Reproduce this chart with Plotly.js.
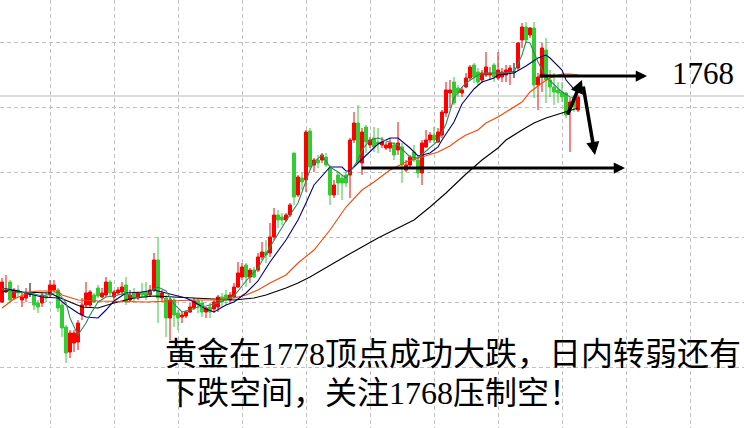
<!DOCTYPE html>
<html><head><meta charset="utf-8">
<script src="https://cdn.plot.ly/plotly-3.0.1.min.js"></script>
<style>html,body{margin:0;padding:0;background:#fff;}#chart{width:744px;height:428px;}</style>
</head><body><div id="chart"></div>
<script>
// ---- candle data (index = bar number, prices) ----
const opens = [
1722.6,1724.6,1726.6,1723.4,1725.0,1723.0,1723.4,1724.2,1724.0,1722.4,
1722.4,1723.8,1724.0,1725.0,1725.0,1722.0,1717.6,1712.6,1714.4,1714.6,
1720.0,1722.0,1722.0,1724.0,1725.4,1723.6,1724.0,1726.6,1723.6,1724.4,
1724.6,1726.0,1723.0,1724.4,1723.4,1724.6,1724.6,1724.0,1725.0,1731.0,
1723.4,1723.4,1719.4,1723.0,1720.4,1719.6,1719.8,1720.6,1721.4,1722.8,
1722.4,1720.6,1721.6,1721.2,1721.6,1723.6,1724.0,1723.0,1723.6,1725.6,
1727.6,1730.0,1727.6,1729.0,1729.0,1731.6,1732.6,1732.4,1735.6,1740.0,
1739.6,1739.0,1740.0,1752.4,1744.0,1747.4,1747.0,1756.8,1750.0,1751.0,
1751.0,1751.6,1749.4,1744.0,1748.0,1747.4,1748.0,1748.0,1755.0,1758.4,
1750.4,1757.6,1754.0,1755.4,1754.6,1754.0,1753.4,1753.4,1754.0,1753.0,
1753.6,1749.0,1750.0,1752.6,1751.0,1748.4,1753.6,1755.0,1756.0,1754.6,
1756.0,1760.4,1764.4,1766.6,1765.4,1764.4,1765.6,1767.4,1770.0,1768.6,
1767.0,1768.0,1768.0,1770.0,1767.4,1767.6,1768.0,1768.6,1768.6,1769.4,
1775.0,1777.6,1776.0,1777.4,1766.0,1767.6,1773.0,1767.0,1765.6,1765.0,
1764.6,1764.4,1761.4,1763.4,1761.0];
const highs = [
1727.4,1728.0,1727.0,1725.4,1726.0,1724.6,1725.4,1726.4,1724.4,1723.0,
1724.4,1724.6,1727.0,1727.0,1725.4,1722.6,1718.0,1717.0,1717.0,1719.0,
1723.4,1726.6,1725.0,1724.4,1726.0,1725.4,1727.6,1727.0,1725.0,1725.6,
1726.6,1727.6,1725.0,1725.4,1724.6,1726.4,1726.6,1726.0,1732.4,1735.6,
1725.0,1724.0,1723.4,1723.4,1721.0,1720.6,1721.0,1722.4,1723.4,1723.4,
1723.0,1721.6,1722.4,1723.0,1724.0,1724.4,1725.0,1724.6,1726.4,1730.6,
1730.4,1730.4,1729.4,1729.6,1732.4,1734.6,1735.0,1738.4,1741.4,1741.0,
1740.4,1740.4,1742.4,1752.4,1748.0,1748.4,1757.0,1757.4,1751.4,1752.0,
1752.4,1752.4,1750.0,1747.0,1748.6,1748.0,1748.6,1755.4,1760.6,1762.0,
1757.4,1758.0,1755.6,1757.6,1757.4,1755.6,1754.6,1755.4,1754.6,1758.6,
1754.4,1751.0,1752.0,1754.0,1752.0,1755.0,1757.0,1756.6,1757.6,1757.4,
1761.0,1766.6,1767.0,1767.6,1766.0,1765.6,1768.4,1770.0,1770.4,1769.4,
1769.0,1772.6,1769.6,1770.4,1772.6,1769.4,1770.0,1770.0,1770.4,1774.6,
1778.4,1778.6,1777.6,1778.6,1768.4,1774.4,1775.4,1769.0,1768.4,1766.6,
1766.6,1764.6,1763.4,1764.0,1764.0];
const lows = [
1722.4,1724.4,1722.6,1723.0,1723.6,1721.6,1722.6,1723.6,1721.0,1720.4,
1721.6,1722.6,1723.6,1724.6,1720.6,1715.6,1710.4,1711.4,1712.6,1713.0,
1719.0,1721.6,1721.4,1722.4,1723.4,1723.4,1723.6,1723.6,1723.0,1724.0,
1724.0,1722.0,1722.6,1722.6,1723.0,1723.6,1723.0,1723.6,1724.6,1718.4,
1722.6,1715.6,1715.0,1717.6,1717.0,1718.4,1719.4,1720.4,1721.0,1720.4,
1719.6,1719.4,1719.4,1720.4,1720.6,1721.6,1722.0,1722.4,1723.4,1725.4,
1727.0,1725.6,1726.4,1727.4,1728.6,1731.0,1730.4,1731.6,1735.0,1737.4,
1738.0,1738.6,1739.6,1742.0,1743.6,1745.0,1744.6,1749.0,1748.6,1749.4,
1750.4,1749.6,1742.0,1743.4,1744.0,1743.0,1745.6,1743.4,1754.4,1750.4,
1748.0,1752.4,1753.4,1752.6,1752.4,1753.4,1753.0,1752.6,1751.0,1752.0,
1746.4,1748.6,1749.6,1750.6,1747.4,1746.0,1753.4,1754.4,1754.4,1754.4,
1755.4,1759.6,1761.4,1762.0,1763.6,1763.6,1765.4,1767.0,1766.4,1766.0,
1766.4,1767.6,1767.0,1766.6,1767.0,1766.6,1766.6,1766.0,1767.4,1769.0,
1773.4,1774.4,1775.4,1763.4,1761.0,1764.6,1762.4,1763.6,1762.0,1762.4,
1762.6,1759.4,1752.6,1760.6,1760.6];
const closes = [
1726.6,1725.0,1723.0,1725.0,1724.4,1723.6,1724.4,1724.2,1722.0,1721.6,
1724.0,1723.4,1726.0,1726.0,1721.4,1717.4,1712.4,1716.4,1716.4,1718.4,
1722.0,1724.4,1724.6,1722.6,1723.8,1724.4,1726.6,1724.4,1724.6,1725.0,
1725.6,1722.6,1724.0,1723.4,1724.4,1724.0,1723.6,1725.0,1731.0,1723.4,
1724.4,1719.4,1723.0,1720.0,1719.4,1720.0,1720.6,1721.6,1722.8,1722.0,
1720.6,1721.4,1720.6,1722.6,1723.6,1722.6,1723.0,1724.0,1725.6,1728.4,
1729.6,1727.6,1729.0,1727.6,1731.6,1732.6,1732.0,1735.6,1740.0,1739.0,
1739.0,1740.0,1742.0,1743.6,1747.6,1746.6,1756.6,1749.6,1751.0,1750.4,
1752.0,1750.0,1744.0,1746.0,1746.4,1746.4,1746.4,1755.0,1758.4,1750.6,
1756.6,1754.6,1755.0,1753.6,1754.2,1754.6,1754.0,1754.4,1752.0,1754.4,
1750.0,1750.0,1751.6,1751.0,1748.4,1754.4,1755.0,1756.0,1755.0,1756.6,
1760.6,1765.0,1765.0,1762.4,1764.4,1765.0,1767.4,1769.6,1767.6,1766.6,
1768.4,1769.6,1768.4,1767.6,1769.0,1768.6,1769.0,1769.4,1768.6,1774.4,
1777.6,1775.0,1777.4,1766.0,1767.6,1773.4,1767.0,1765.6,1764.6,1764.4,
1763.6,1760.0,1762.6,1761.6,1763.6];

// ---- moving averages (bar index, price) ----
const ma5X = [0,3,7,10,14,16,17,19,21,22,24,26,28,31,33,36,38,39,41,43,45,47,49,51,54,58,61,64,67,71,74,76,77,78,80,82,84,86,89,90,92,94,97,99,102,104,106,109,111,113,115,116,119,121,124,128,130,131,132,134,136,138,140,142,144];
const ma5Y = [1725.4,1724.6,1724.4,1723.8,1724.6,1722.4,1719.4,1716.0,1718.4,1720.0,1722.6,1723.6,1723.8,1724.4,1723.4,1723.8,1725.2,1725.6,1724.8,1722.2,1720.6,1721.0,1721.6,1721.8,1722.4,1723.8,1726.8,1729.4,1733.6,1738.8,1742.4,1747.0,1749.0,1750.6,1752.0,1749.6,1748.6,1747.4,1751.0,1753.0,1755.0,1755.4,1754.6,1754.0,1751.6,1751.4,1752.8,1754.8,1758.2,1763.4,1765.6,1766.4,1768.0,1768.4,1768.4,1768.6,1772.0,1774.6,1774.4,1770.6,1767.6,1766.0,1764.6,1763.6,1763.4];
const ma10X = [0,4,10,14,16,19,21,24,26,28,31,35,38,40,43,46,48,51,53,56,58,61,64,67,71,74,76,78,82,85,86,87,89,92,94,97,99,102,104,107,109,110,113,115,118,120,123,124,128,131,134,136,137,140,141,143,144];
const ma10Y = [1725.4,1724.8,1723.6,1723.4,1722.0,1720.4,1719.6,1719.4,1721.0,1722.8,1724.4,1724.6,1725.0,1724.6,1724.0,1723.4,1722.6,1721.2,1720.6,1722.0,1722.6,1724.4,1726.8,1730.6,1735.0,1739.0,1742.4,1746.0,1749.6,1749.6,1748.8,1748.8,1750.4,1752.6,1754.2,1755.4,1755.4,1753.4,1751.8,1752.4,1753.6,1755.0,1758.6,1762.2,1765.2,1766.6,1767.4,1768.0,1768.4,1769.8,1771.4,1772.0,1771.4,1769.0,1767.0,1765.2,1764.6];
const ma20X = [0,3,7,9,14,15,19,24,36,48,54,58,61,64,67,71,74,78,82,86,90,93,97,101,105,109,112,114,116,119,121,124,126,130,132,135,137,140,142,144];
const ma20Y = [1721.4,1723.2,1724.6,1724.8,1724.8,1724.0,1723.0,1722.8,1722.6,1723.0,1723.0,1723.4,1724.0,1725.0,1726.4,1728.0,1730.4,1733.0,1737.0,1741.6,1745.0,1746.6,1749.0,1750.6,1751.6,1752.6,1753.8,1755.0,1756.0,1757.0,1758.4,1759.6,1760.6,1762.6,1764.6,1766.4,1767.4,1768.2,1768.2,1768.0];
const ma60X = [0,2,5,12,14,17,20,24,28,33,38,43,48,58,63,66,71,74,77,82,86,90,94,99,103,107,111,116,120,124,126,130,133,136,140,142,144];
const ma60Y = [1724.6,1725.0,1724.6,1724.4,1723.6,1722.6,1721.6,1721.4,1722.4,1723.4,1723.8,1723.6,1723.4,1723.0,1723.4,1724.0,1725.4,1726.4,1727.6,1730.0,1731.8,1733.6,1735.4,1737.4,1739.0,1741.6,1744.4,1748.2,1751.0,1753.4,1755.0,1757.0,1758.4,1759.4,1760.4,1761.0,1761.4];

// ---- text ----
const priceLabel = '1768';
const line1 = '黄金在1778顶点成功大跌，日内转弱还有';
const line2 = '下跌空间，关注1768压制空！';
const resistance = 1767.8, support = 1749.4, lastPrice = 1763.8;

// ---- split bars by colour ----
const idx = opens.map((_, i) => i);
function pick(filter) {
  const s = idx.filter(filter);
  return {x: s, open: s.map(i => opens[i]), high: s.map(i => highs[i]), low: s.map(i => lows[i]), close: s.map(i => closes[i])};
}
const up = pick(i => closes[i] > opens[i]);
const dn = pick(i => closes[i] < opens[i]);
const dj = pick(i => closes[i] === opens[i]);
const RED = '#ff0000', GRN = '#33cc33';
function candle(d, inc, dec) {
  return Object.assign({type: 'candlestick', hoverinfo: 'skip', whiskerwidth: 0,
    increasing: {line: {color: inc, width: 1}, fillcolor: inc},
    decreasing: {line: {color: dec, width: 1}, fillcolor: dec}, showlegend: false}, d);
}
function ma(x, y, color) {
  return {type: 'scatter', mode: 'lines', x: x, y: y, line: {color: color, width: 1.1}, hoverinfo: 'skip', showlegend: false};
}
const data = [
  candle(up, RED, RED), candle(dn, GRN, GRN), candle(dj, '#000', '#000'),
  ma(ma60X, ma60Y, '#000000'), ma(ma20X, ma20Y, '#ff4500'),
  ma(ma10X, ma10Y, '#000080'), ma(ma5X, ma5Y, '#2e8b57')
];

function arrow(x0, y0, x1, y1, w) {
  return {x: x1, y: y1, ax: x0, ay: y0, xref: 'x', yref: 'y', axref: 'x', ayref: 'y',
    showarrow: true, arrowhead: 2, arrowsize: 0.75, arrowwidth: w, arrowcolor: '#000', standoff: 0, startstandoff: 0, text: ''};
}
const CJK = 'Liberation Serif, Noto Sans CJK SC, sans-serif';
const layout = {
  width: 744, height: 428, margin: {l: 0, r: 0, t: 0, b: 0},
  paper_bgcolor: '#fff', plot_bgcolor: '#fff', showlegend: false,
  boxgap: 0.25, boxgroupgap: 0,
  xaxis: {range: [-0.5, 185.5], rangeslider: {visible: false}, showticklabels: false, ticks: '',
    tick0: 12, dtick: 16, showgrid: true, gridcolor: '#c0c0c0', griddash: '4px,3px', gridwidth: 1,
    zeroline: false, showline: false, fixedrange: true},
  yaxis: {range: [1697.4, 1783], showticklabels: false, ticks: '', tick0: 1774.6, dtick: 13,
    showgrid: true, gridcolor: '#c0c0c0', griddash: '4px,3px', gridwidth: 1,
    zeroline: false, showline: false, fixedrange: true},
  shapes: [{type: 'line', xref: 'paper', x0: 0, x1: 1, yref: 'y', y0: lastPrice, y1: lastPrice,
    line: {color: '#b8b8b8', width: 1}, layer: 'below'}],
  annotations: [
    arrow(134, resistance, 161.25, resistance, 3),
    arrow(89.5, support, 155.75, support, 3),
    arrow(141.25, 1759.8, 145, 1767, 3.5),
    arrow(145.25, 1766, 148.25, 1752, 3.5),
    {xref: 'paper', yref: 'paper', x: 0.945, y: 0.829, xanchor: 'center', yanchor: 'middle', showarrow: false,
      text: priceLabel, font: {family: 'Liberation Serif, serif', size: 31, color: '#000'}},
    {xref: 'paper', yref: 'paper', x: 0.219, y: 0.173, xanchor: 'left', yanchor: 'middle', showarrow: false,
      text: line1, font: {family: CJK, size: 32, color: '#000'}},
    {xref: 'paper', yref: 'paper', x: 0.219, y: 0.082, xanchor: 'left', yanchor: 'middle', showarrow: false,
      text: line2, font: {family: CJK, size: 32, color: '#000'}}
  ]
};
Plotly.newPlot('chart', data, layout, {displayModeBar: false, staticPlot: true});
</script>
</body></html>
